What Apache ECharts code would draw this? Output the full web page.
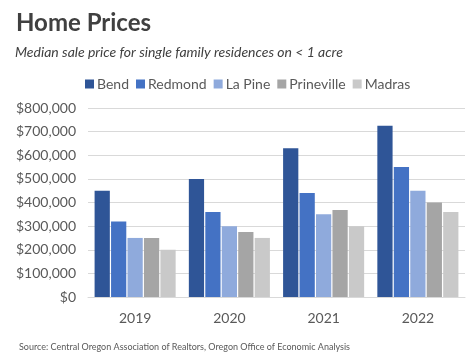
<!DOCTYPE html>
<html>
<head>
<meta charset="utf-8">
<script src="https://cdn.jsdelivr.net/npm/echarts@6/dist/echarts.min.js"></script>
<style>
  html, body { margin: 0; padding: 0; background: #fff; }
  #chart { width: 474px; height: 354px; }
</style>
</head>
<body>
<div id="chart"></div>
<script>
const years = ['2019', '2020', '2021', '2022'];
const bend = [450000, 500000, 630000, 725000];
const redmond = [320000, 360000, 440000, 550000];
const laPine = [250000, 300000, 350000, 450000];
const prineville = [250000, 275000, 368000, 400000];
const madras = [200000, 250000, 300000, 360000];

const seriesNames = ['Bend', 'Redmond', 'La Pine', 'Prineville', 'Madras'];
const seriesData = [bend, redmond, laPine, prineville, madras];
const colors = ['#2f5597', '#4472c4', '#8faadc', '#a5a5a5', '#c9c9c9'];

const font = 'Lato, "Open Sans", sans-serif';

let myChart = echarts.init(document.getElementById('chart'), null, { renderer: 'canvas' });

const option = {
  animation: false,
  color: colors,
  title: [
    {
      text: 'Home Prices',
      left: 11,
      top: 6,
      textStyle: { color: '#404040', fontSize: 24, fontWeight: 'bold', fontFamily: font }
    },
    {
      text: 'Median sale price for single family residences on < 1 acre',
      left: 10,
      top: 40,
      textStyle: { color: '#404040', fontSize: 14, fontStyle: 'italic', fontWeight: 'normal', fontFamily: font }
    },
    {
      text: 'Source: Central Oregon Association of Realtors, Oregon Office of Economic Analysis',
      left: 14,
      top: 338,
      textStyle: { color: '#595959', fontSize: 9, fontWeight: 'normal', fontFamily: font }
    }
  ],
  legend: {
    data: seriesNames,
    left: 80,
    top: 72,
    itemWidth: 9,
    itemHeight: 9,
    itemGap: 7,
    icon: 'rect',
    textStyle: { color: '#595959', fontSize: 14, fontFamily: font, padding: [0, 0, 0, -2] }
  },
  grid: {
    left: 88,
    right: 9,
    top: 108,
    bottom: 57
  },
  xAxis: {
    type: 'category',
    data: years,
    axisLine: { lineStyle: { color: '#d9d9d9' } },
    axisTick: { show: false },
    axisLabel: { color: '#595959', fontSize: 14, fontFamily: font, margin: 14 }
  },
  yAxis: {
    type: 'value',
    min: 0,
    max: 800000,
    interval: 100000,
    axisLine: { show: false },
    axisTick: { show: false },
    splitLine: { lineStyle: { color: '#d9d9d9' } },
    axisLabel: {
      color: '#595959',
      fontSize: 14,
      fontFamily: font,
      margin: 12,
      formatter: v => '$' + v.toLocaleString('en-US')
    }
  },
  series: seriesNames.map((name, i) => ({
    name: name,
    type: 'bar',
    data: seriesData[i],
    barGap: '8%',
    barCategoryGap: '14%'
  }))
};

myChart.setOption(option);
window.addEventListener('resize', myChart.resize);
</script>
</body>
</html>
